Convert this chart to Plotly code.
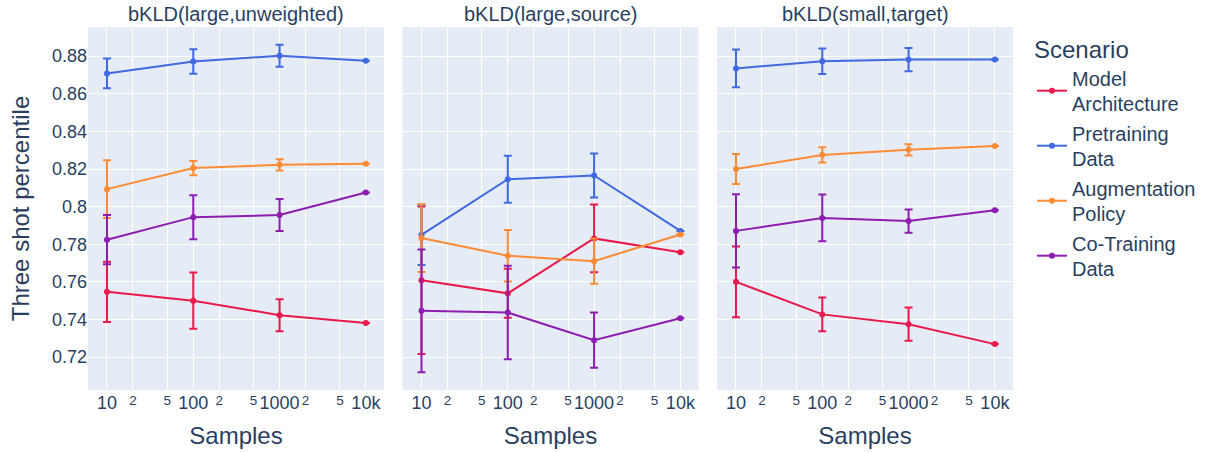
import plotly.graph_objects as go
from plotly.subplots import make_subplots

samples = [10, 100, 1000, 10000]
panels = ["bKLD(large,unweighted)", "bKLD(large,source)", "bKLD(small,target)"]
scenarios = ["Model<br>Architecture", "Pretraining<br>Data", "Augmentation<br>Policy", "Co-Training<br>Data"]
colors = ["#E8194B", "#4169E1", "#FB8B35", "#8C1DB0"]

# values[panel][scenario] and errors[panel][scenario]
values = [
    [
        [0.7547, 0.7500, 0.7423, 0.7381],
        [0.8708, 0.8772, 0.8802, 0.8775],
        [0.8093, 0.8205, 0.8222, 0.8228],
        [0.7824, 0.7944, 0.7955, 0.8075],
    ],
    [
        [0.7609, 0.7539, 0.7831, 0.7757],
        [0.7850, 0.8146, 0.8166, 0.7871],
        [0.7833, 0.7739, 0.7710, 0.7852],
        [0.7446, 0.7437, 0.7290, 0.7406],
    ],
    [
        [0.7600, 0.7427, 0.7375, 0.7269],
        [0.8735, 0.8773, 0.8782, 0.8782],
        [0.8200, 0.8275, 0.8302, 0.8322],
        [0.7871, 0.7940, 0.7923, 0.7981],
    ],
]
errors = [
    [
        [0.0160, 0.0150, 0.0085, 0.0],
        [0.0079, 0.0065, 0.0058, 0.0],
        [0.0153, 0.0038, 0.0030, 0.0],
        [0.0131, 0.0117, 0.0085, 0.0],
    ],
    [
        [0.0392, 0.0130, 0.0180, 0.0],
        [0.0160, 0.0125, 0.0117, 0.0],
        [0.0180, 0.0137, 0.0120, 0.0],
        [0.0326, 0.0248, 0.0147, 0.0],
    ],
    [
        [0.0188, 0.0090, 0.0088, 0.0],
        [0.0100, 0.0068, 0.0062, 0.0],
        [0.0080, 0.0040, 0.0030, 0.0],
        [0.0195, 0.0124, 0.0062, 0.0],
    ],
]

fig = make_subplots(rows=1, cols=3, shared_yaxes=True, horizontal_spacing=0.02,
                    subplot_titles=panels)

for p in range(3):
    for s in range(4):
        fig.add_trace(go.Scatter(
            x=samples, y=values[p][s], mode="lines+markers",
            name=scenarios[s], legendgroup=scenarios[s], showlegend=(p == 0),
            line=dict(color=colors[s], width=2),
            marker=dict(color=colors[s], size=6),
            error_y=dict(type="data", array=errors[p][s], visible=True,
                         color=colors[s], thickness=2, width=4),
        ), row=1, col=p + 1)

font_family = "Liberation Sans, Arial, sans-serif"
fig.update_layout(
    width=1206, height=452,
    margin=dict(l=88, r=193, t=27, b=62, autoexpand=False),
    font=dict(family=font_family, size=18, color="#2a3f5f"),
    plot_bgcolor="#E5ECF6", paper_bgcolor="white",
    legend=dict(title=dict(text="Scenario", font=dict(size=24)), font=dict(size=20),
                tracegroupgap=0, xref="container", x=1032 / 1206, xanchor="left",
                y=1, yanchor="top"),
)
for a in fig.layout.annotations:
    a.font = dict(size=20, family=font_family, color="#2a3f5f")

fig.update_xaxes(type="log", range=[0.78, 4.21], dtick="D2", title_text="Samples",
                 title_font=dict(size=24), tickfont=dict(size=18),
                 gridcolor="white", showline=False, zeroline=False)
fig.update_yaxes(range=[0.7025, 0.8955], dtick=0.02, gridcolor="white",
                 tickfont=dict(size=18), zeroline=False)
fig.update_yaxes(title_text="Three shot percentile", title_font=dict(size=24), row=1, col=1)

fig.write_html("out.html")
